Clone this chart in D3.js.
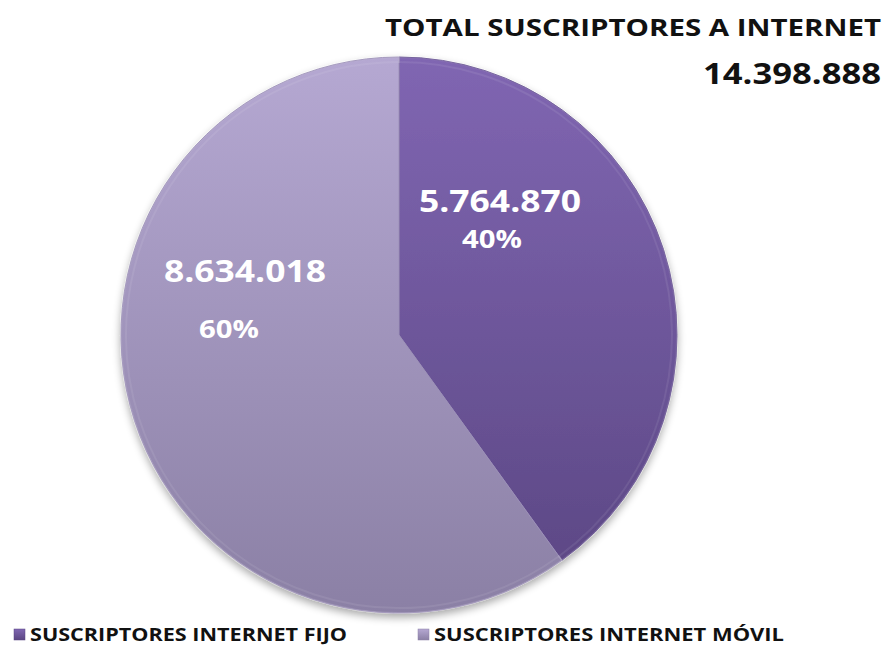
<!DOCTYPE html>
<html><head><meta charset="utf-8">
<script src="https://cdn.jsdelivr.net/npm/d3@7"></script>
<style>body{margin:0;background:#fff}svg{display:block}text{font-family:"Open Sans",sans-serif;font-weight:700}</style>
</head><body><svg id="c" width="886" height="649"></svg>
<script>
const categories = ["SUSCRIPTORES INTERNET FIJO", "SUSCRIPTORES INTERNET MÓVIL"];
const values = [5764870, 8634018];
const valueLabels = ["5.764.870", "8.634.018"];
const pctLabels = ["40%", "60%"];
const title = "TOTAL SUSCRIPTORES A INTERNET";
const totalLabel = "14.398.888";

const svg = d3.select("#c");
const W = 886, H = 649;
const cx = 399, cy = 335, r = 278;

const defs = svg.append("defs");
const grads = [["#8066b2", "#5a4682"], ["#b5a8d2", "#8b80a5"]];
grads.forEach((g, i) => {
  const lg = defs.append("linearGradient").attr("id", "g" + i)
    .attr("gradientUnits", "userSpaceOnUse").attr("x1", 0).attr("y1", -r).attr("x2", 0).attr("y2", r);
  lg.append("stop").attr("offset", "0%").attr("stop-color", g[0]);
  lg.append("stop").attr("offset", "100%").attr("stop-color", g[1]);
  const lg2 = defs.append("linearGradient").attr("id", "lg" + i).attr("x1", 0).attr("y1", 0).attr("x2", 0).attr("y2", 1);
  lg2.append("stop").attr("offset", "0%").attr("stop-color", g[0]);
  lg2.append("stop").attr("offset", "100%").attr("stop-color", g[1]);
});
const f = defs.append("filter").attr("id", "sh").attr("x", "-20%").attr("y", "-20%").attr("width", "140%").attr("height", "140%");
f.append("feGaussianBlur").attr("in", "SourceAlpha").attr("stdDeviation", 4).attr("result", "b");
f.append("feOffset").attr("in", "b").attr("dy", 4).attr("result", "o");
f.append("feComponentTransfer").attr("in", "o").attr("result", "o2").append("feFuncA").attr("type", "linear").attr("slope", 0.35);
const m = f.append("feMerge"); m.append("feMergeNode").attr("in", "o2"); m.append("feMergeNode").attr("in", "SourceGraphic");

const pie = d3.pie().sort(null).value(d => d)(values);
const arc = d3.arc().innerRadius(0).outerRadius(r);
const g = svg.append("g").attr("transform", `translate(${cx},${cy})`).attr("filter", "url(#sh)");
g.selectAll("path").data(pie).join("path")
  .attr("d", arc)
  .attr("fill", (d, i) => `url(#g${i})`)
  .attr("stroke", (d, i) => i === 0 ? "#6a5694" : "#9d91b8").attr("stroke-width", 1);
g.selectAll("path.rim").data(pie).join("path").attr("class", "rim")
  .attr("d", d3.arc().innerRadius(r - 5).outerRadius(r))
  .attr("fill", "none").attr("stroke", "rgba(255,255,255,0.08)").attr("stroke-width", 2);

const labelPos = [
  {v: [500, 212], p: [492, 248]},
  {v: [245, 282], p: [229, 338]}
];
labelPos.forEach((lp, i) => {
  svg.append("text").attr("x", lp.v[0]).attr("y", lp.v[1]).attr("text-anchor", "middle")
    .attr("fill", "#fff").attr("font-size", 30).attr("textLength", 162).attr("lengthAdjust", "spacingAndGlyphs")
    .text(valueLabels[i]);
  svg.append("text").attr("x", lp.p[0]).attr("y", lp.p[1]).attr("text-anchor", "middle")
    .attr("fill", "#fff").attr("font-size", 25).attr("textLength", 60).attr("lengthAdjust", "spacingAndGlyphs")
    .text(pctLabels[i]);
});

svg.append("text").attr("x", 881).attr("y", 36).attr("text-anchor", "end").attr("fill", "#111")
  .attr("font-size", 24).attr("textLength", 496).attr("lengthAdjust", "spacingAndGlyphs").text(title);
svg.append("text").attr("x", 881).attr("y", 84).attr("text-anchor", "end").attr("fill", "#111")
  .attr("font-size", 28).attr("textLength", 178).attr("lengthAdjust", "spacingAndGlyphs").text(totalLabel);

const legX = [14, 418], legW = [317, 350];
categories.forEach((c, i) => {
  svg.append("rect").attr("x", legX[i]).attr("y", 629).attr("width", 11).attr("height", 11)
    .attr("fill", `url(#lg${i})`).attr("stroke", i === 0 ? "#5a4682" : "#8c81a6").attr("stroke-width", 0.5);
  svg.append("text").attr("x", legX[i] + 16).attr("y", 641).attr("fill", "#111")
    .attr("font-size", 17).attr("textLength", legW[i]).attr("lengthAdjust", "spacingAndGlyphs").text(c);
});
</script></body></html>
